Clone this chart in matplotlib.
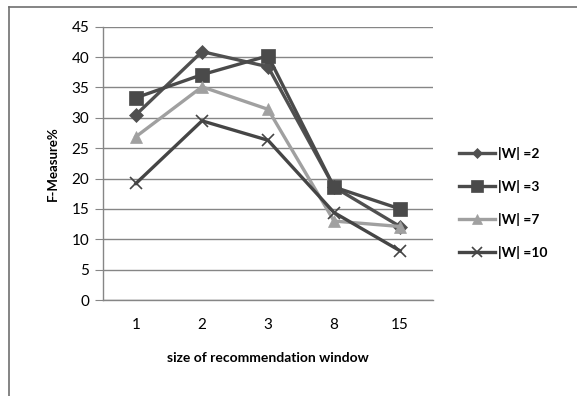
import matplotlib.pyplot as plt
from matplotlib.lines import Line2D

plt.rcParams['font.family'] = ['Lato', 'DejaVu Sans']

window_sizes = ['1', '2', '3', '8', '15']
w2 = [30.5, 40.9, 38.4, 18.6, 12.1]
w3 = [33.3, 37.1, 40.2, 18.6, 15.0]
w7 = [26.9, 35.1, 31.4, 13.0, 12.1]
w10 = [19.2, 29.5, 26.3, 14.4, 8.1]

series = [
    ('|W| =2', w2, '#505050', 'D', 7),
    ('|W| =3', w3, '#4a4a4a', 's', 10),
    ('|W| =7', w7, '#a0a0a0', '^', 9),
    ('|W| =10', w10, '#454545', 'x', 9),
]

fig = plt.figure(figsize=(5.77, 3.96), dpi=100)
ax = fig.add_axes([0.1785, 0.2424, 0.572, 0.6902])

x = range(len(window_sizes))
for label, vals, color, marker, ms in series:
    ax.plot(x, vals, color=color, lw=2.4, marker=marker, markersize=ms,
            markeredgewidth=1.2 if marker == 'x' else 0.5,
            markeredgecolor=color, label=label)

ax.set_xlim(-0.5, len(window_sizes) - 0.5)
ax.set_ylim(0, 45)
ax.set_yticks(range(0, 46, 5))
ax.set_xticks(list(x))
ax.set_xticklabels(window_sizes)
ax.yaxis.grid(True, color='#868686', lw=1)
ax.set_axisbelow(True)
for side in ['top', 'right']:
    ax.spines[side].set_visible(False)
for side in ['left', 'bottom']:
    ax.spines[side].set_color('#868686')
    ax.spines[side].set_linewidth(1)
ax.tick_params(axis='y', length=6, color='#868686', labelsize=11, pad=4)
ax.tick_params(axis='x', length=0, labelsize=11, pad=13)

ax.set_ylabel('F-Measure%', fontsize=9.5, fontweight='bold', labelpad=9)
ax.set_xlabel('size of recommendation window', fontsize=10,
              fontweight='bold', labelpad=14)

leg = ax.legend(loc='center left', bbox_to_anchor=(1.04, 0.355), frameon=False,
                handlelength=2.6, labelspacing=1.45, handletextpad=0.2,
                markerscale=0.8, prop={'size': 10, 'weight': 'bold'})

# outer chart border
fig.add_artist(Line2D([0.0156, 1.0], [0.982, 0.982], color='#707070', lw=1.2,
                      transform=fig.transFigure))
fig.add_artist(Line2D([0.0156, 0.0156], [0.0, 0.982], color='#707070', lw=1.2,
                      transform=fig.transFigure))

fig.savefig('out.png', dpi=100)
